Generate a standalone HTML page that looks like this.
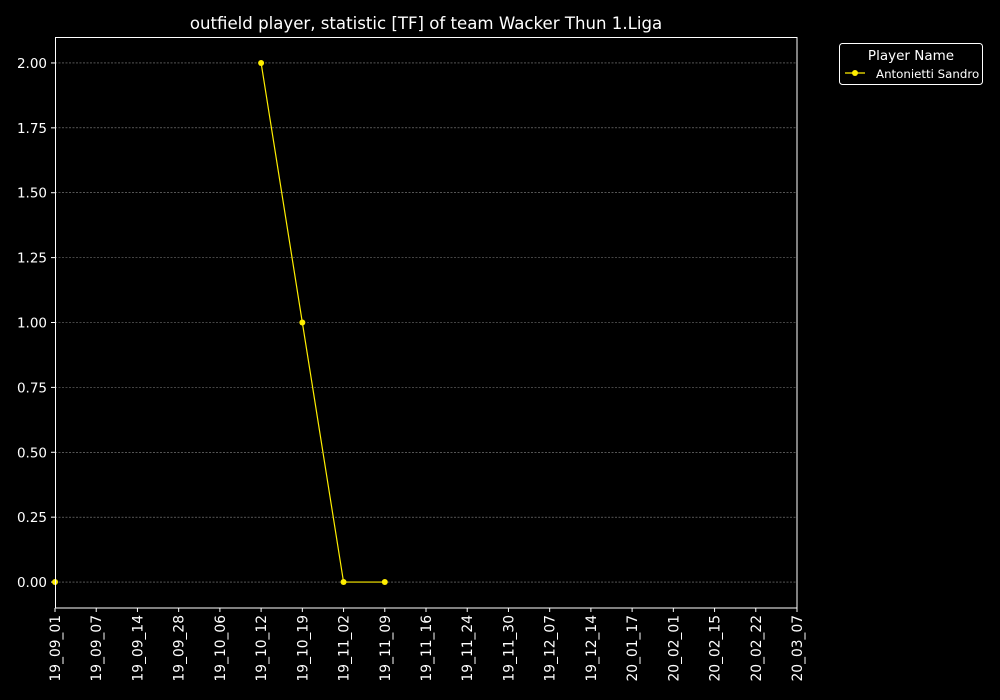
<!DOCTYPE html>
<html><head><meta charset="utf-8"><style>
body{margin:0;background:#000;}
svg{display:block;font-family:"DejaVu Sans","Liberation Sans",sans-serif;}
</style></head><body>
<svg id="chart" width="1000" height="700">
<rect width="1000" height="700" fill="#000"/>
<text x="426" y="29" fill="#fff" font-size="16.6" text-anchor="middle">outfield player, statistic [TF] of team Wacker Thun 1.Liga</text>
<g id="grid"></g>
<g id="xaxis"></g>
<g id="yaxis"></g>
<g id="series"></g>
<rect x="55.5" y="37.5" width="741.5" height="570.5" fill="none" stroke="#fff" stroke-width="1"/>
<g>
<rect x="839.5" y="43.5" width="143" height="41" rx="3" fill="#000" stroke="#fff"/>
<text x="911" y="60" fill="#fff" font-size="13.5" text-anchor="middle">Player Name</text>
<line x1="845" y1="73" x2="865" y2="73" stroke="#ffee00" stroke-width="1.2"/>
<circle cx="855" cy="73" r="3" fill="#ffee00"/>
<text x="876" y="78" fill="#fff" font-size="11.8">Antonietti Sandro</text>
</g>
</svg>
<script>
const categories=["19_09_01","19_09_07","19_09_14","19_09_28","19_10_06","19_10_12","19_10_19","19_11_02","19_11_09","19_11_16","19_11_24","19_11_30","19_12_07","19_12_14","20_01_17","20_02_01","20_02_15","20_02_22","20_03_07"];
const values=[0,null,null,null,null,2,1,0,0,null,null,null,null,null,null,null,null,null,null];
const yTicks=[0,0.25,0.5,0.75,1,1.25,1.5,1.75,2];
const yTickLabels=["0.00","0.25","0.50","0.75","1.00","1.25","1.50","1.75","2.00"];
const NS="http://www.w3.org/2000/svg";
const L=55,R=797,T=37,B=608,yMin=-0.1,yMax=2.1;
const xs=i=>L+(R-L)*i/(categories.length-1);
const ys=v=>B-(v-yMin)/(yMax-yMin)*(B-T);
function mk(tag,attrs,parent){const e=document.createElementNS(NS,tag);for(const k in attrs)e.setAttribute(k,attrs[k]);parent.appendChild(e);return e;}
const grid=document.getElementById('grid'),ya=document.getElementById('yaxis'),xa=document.getElementById('xaxis'),se=document.getElementById('series');
yTicks.forEach((v,i)=>{const y=ys(v);
 const g=mk('line',{x1:L,x2:R,y1:y,y2:y,stroke:'#888','stroke-width':0.6,'stroke-dasharray':'2,1.5'},grid);
 
 
 const t=mk('line',{x1:L-4,x2:L,y1:y,y2:y,stroke:'#fff'},ya);
 
 
 const tx=mk('text',{x:L-8,y:y+5,fill:'#fff','font-size':13.5,'text-anchor':'end'},ya);
 tx.textContent=yTickLabels[i];
 
 
});
categories.forEach((c,i)=>{const x=xs(i);
 const t=mk('line',{x1:x,x2:x,y1:B,y2:B+4,stroke:'#fff'},xa);
 
 
 const tx=mk('text',{x:x+5,y:B+7,fill:'#fff','font-size':13.8,'text-anchor':'end',transform:`rotate(-90 ${x+5} ${B+7})`},xa);
 tx.textContent=c;
 
 
});
let seg=[];const segs=[];
values.forEach((v,i)=>{if(v===null){if(seg.length)segs.push(seg);seg=[];}else seg.push([xs(i),ys(v)]);});
if(seg.length)segs.push(seg);
segs.forEach(s=>{if(s.length>1){const p=mk('polyline',{points:s.map(q=>q.join(',')).join(' '),fill:'none',stroke:'#ffee00','stroke-width':1.2},se);
 
 }});
values.forEach((v,i)=>{if(v===null)return;
 const c=mk('circle',{cx:xs(i),cy:ys(v),r:3,fill:'#ffee00'},se);
 
 
});
</script>
</body></html>
